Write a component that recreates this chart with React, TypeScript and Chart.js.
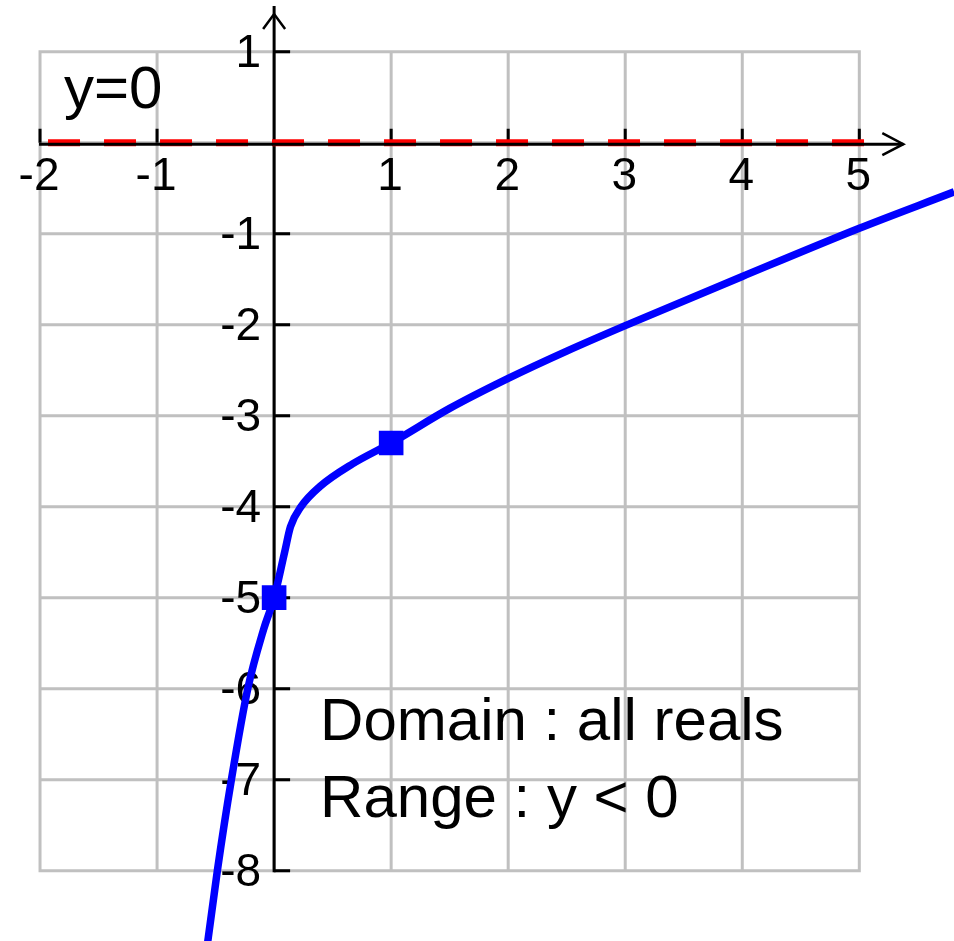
import React, { useEffect, useRef } from "react";
import { Chart, registerables } from "chart.js";

Chart.register(...registerables);

// ---- data ----
const curveX = [-0.6, -0.485, -0.365, -0.225, -0.09, 0, 0.09, 0.14, 0.23, 0.39, 0.67, 1, 1.5, 2, 2.5, 3, 4, 5, 5.81, 5.9];
const curveY = [-9.1, -8.0, -7.0, -6.0, -5.35, -5.0, -4.5, -4.22, -4.0, -3.78, -3.53, -3.3, -2.92, -2.59, -2.29, -2.01, -1.47, -0.94, -0.54, -0.495];
const markerX = [0, 1];
const markerY = [-5, -3.3];
const asymptoteX = [-2, 5.05];
const asymptoteY = [0, 0];
const gridX = [-2, -1, 0, 1, 2, 3, 4, 5];
const gridY = [1, 0, -1, -2, -3, -4, -5, -6, -7, -8];
const xTickValues = [-2, -1, 1, 2, 3, 4, 5];
const xTickLabels = ["-2", "-1", "1", "2", "3", "4", "5"];
const yTickValues = [1, -1, -2, -3, -4, -5, -6, -7, -8];
const yTickLabels = ["1", "-1", "-2", "-3", "-4", "-5", "-6", "-7", "-8"];
const asymptoteLabel = "y=0";
const noteLines = ["Domain : all reals", "Range : y < 0"];

const X_MIN = -2.342;
const X_MAX = 5.809;
const Y_MIN = -8.773;
const Y_MAX = 1.568;

const FONT = '"Liberation Sans", Arial, sans-serif';

const axesPlugin = {
  id: "mathAxes",
  beforeDatasetsDraw(chart: any) {
    const { ctx, scales, chartArea } = chart;
    const xs = scales.x;
    const ys = scales.y;
    const px = (v: number) => xs.getPixelForValue(v);
    const py = (v: number) => ys.getPixelForValue(v);
    const x0 = px(0);
    const y0 = py(0);
    ctx.save();

    // grid
    ctx.strokeStyle = "#c0c0c0";
    ctx.lineWidth = 3;
    ctx.lineCap = "square";
    const gx0 = px(gridX[0]);
    const gx1 = px(gridX[gridX.length - 1]);
    const gy0 = py(gridY[0]);
    const gy1 = py(gridY[gridY.length - 1]);
    ctx.beginPath();
    gridX.forEach((v) => {
      ctx.moveTo(px(v), gy0);
      ctx.lineTo(px(v), gy1);
    });
    gridY.forEach((v) => {
      ctx.moveTo(gx0, py(v));
      ctx.lineTo(gx1, py(v));
    });
    ctx.stroke();

    // y axis
    ctx.strokeStyle = "#000";
    ctx.lineCap = "butt";
    ctx.lineWidth = 3;
    ctx.beginPath();
    ctx.moveTo(x0, chartArea.top + 6);
    ctx.lineTo(x0, gy1 + 1.5);
    ctx.stroke();
    // y arrow
    ctx.lineWidth = 2.5;
    ctx.beginPath();
    ctx.moveTo(x0 - 11, chartArea.top + 29);
    ctx.lineTo(x0, chartArea.top + 14);
    ctx.lineTo(x0 + 11, chartArea.top + 29);
    ctx.stroke();

    // y ticks
    ctx.lineWidth = 3;
    ctx.beginPath();
    yTickValues.forEach((v) => {
      ctx.moveTo(x0, py(v));
      ctx.lineTo(x0 + 16, py(v));
    });
    ctx.stroke();

    // x ticks
    ctx.beginPath();
    xTickValues.forEach((v) => {
      ctx.moveTo(px(v), y0 - 14);
      ctx.lineTo(px(v), y0);
    });
    ctx.stroke();

    // tick labels
    ctx.fillStyle = "#000";
    ctx.font = `46px ${FONT}`;
    ctx.textBaseline = "alphabetic";
    ctx.textAlign = "center";
    xTickValues.forEach((v, i) => {
      ctx.fillText(xTickLabels[i], px(v) - 1, y0 + 47);
    });
    ctx.textAlign = "right";
    yTickValues.forEach((v, i) => {
      ctx.fillText(yTickLabels[i], x0 - 13, py(v) + 15);
    });

    // annotations
    ctx.font = `60px ${FONT}`;
    ctx.textAlign = "left";
    ctx.fillText(asymptoteLabel, gx0 + 24, y0 - 35);
    noteLines.forEach((t, i) => {
      ctx.fillText(t, x0 + 46, py(-6) + 51 + i * 77);
    });
    ctx.restore();
  },
  afterDatasetsDraw(chart: any) {
    const { ctx, scales } = chart;
    const px = (v: number) => scales.x.getPixelForValue(v);
    const py = (v: number) => scales.y.getPixelForValue(v);
    const y0 = py(0) + 1.5;
    const left = px(gridX[0]) - 1;
    const tip = px(gridX[gridX.length - 1]) + 44;
    ctx.save();
    ctx.strokeStyle = "#000";
    ctx.lineWidth = 3;
    ctx.beginPath();
    ctx.moveTo(left, y0);
    ctx.lineTo(tip, y0);
    ctx.stroke();
    ctx.lineWidth = 2.5;
    ctx.beginPath();
    ctx.moveTo(tip - 21, y0 - 11);
    ctx.lineTo(tip, y0);
    ctx.lineTo(tip - 21, y0 + 11);
    ctx.stroke();
    ctx.restore();
  },
};

export default function App() {
  const ref = useRef<HTMLCanvasElement | null>(null);

  useEffect(() => {
    document.body.style.margin = "0";
    document.body.style.overflow = "hidden";
    const canvas = ref.current;
    if (!canvas) return;
    const chart = new Chart(canvas, {
      type: "scatter",
      data: {
        datasets: [
          {
            label: "points",
            data: markerX.map((x, i) => ({ x, y: markerY[i] })),
            showLine: false,
            pointStyle: "rect",
            pointRadius: 16,
            pointHoverRadius: 16,
            backgroundColor: "#0000ff",
            borderColor: "#0000ff",
            borderWidth: 2,
          },
          {
            label: "curve",
            data: curveX.map((x, i) => ({ x, y: curveY[i] })),
            showLine: true,
            borderColor: "#0000ff",
            borderWidth: 7.5,
            pointRadius: 0,
            pointHoverRadius: 0,
            cubicInterpolationMode: "monotone",
            fill: false,
          },
          {
            label: "asymptote",
            data: asymptoteX.map((x, i) => ({ x, y: asymptoteY[i] })),
            showLine: true,
            borderColor: "#ff0000",
            borderWidth: 7,
            borderDash: [32, 24],
            borderDashOffset: 48,
            borderCapStyle: "butt",
            pointRadius: 0,
            pointHoverRadius: 0,
            fill: false,
          },
        ],
      } as any,
      options: {
        animation: false,
        responsive: false,
        devicePixelRatio: 1,
        events: [],
        layout: { padding: 0, autoPadding: false },
        plugins: { legend: { display: false }, tooltip: { enabled: false } },
        scales: {
          x: { type: "linear", min: X_MIN, max: X_MAX, display: false },
          y: { type: "linear", min: Y_MIN, max: Y_MAX, display: false },
        },
      } as any,
      plugins: [axesPlugin],
    });
    return () => chart.destroy();
  }, []);

  return (
    <canvas
      ref={ref}
      width={954}
      height={941}
      style={{ display: "block", width: 954, height: 941 }}
    />
  );
}
